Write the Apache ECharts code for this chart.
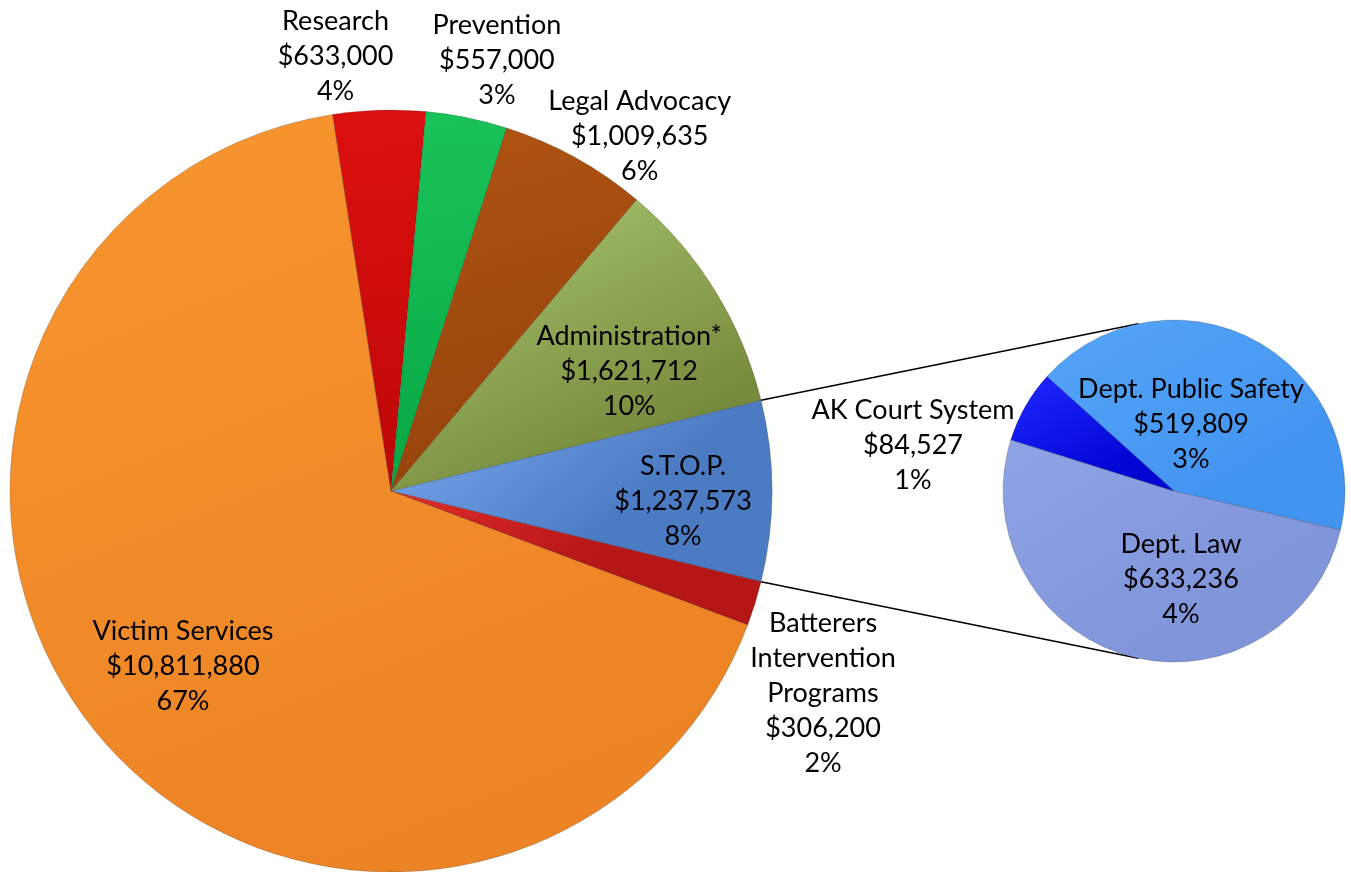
<!DOCTYPE html>
<html><head><meta charset="utf-8">
<script src="https://cdn.jsdelivr.net/npm/echarts@6/dist/echarts.min.js"></script>
<style>html,body{margin:0;padding:0;background:#fff}#c{width:1351px;height:872px}</style>
</head><body><div id="c"></div>
<script>
// ---- data ----
const mainCategories = ['S.T.O.P.', 'Batterers Intervention Programs', 'Victim Services', 'Research', 'Prevention', 'Legal Advocacy', 'Administration*'];
const mainLabelNames = ['S.T.O.P.', 'Batterers\nIntervention\nPrograms', 'Victim Services', 'Research', 'Prevention', 'Legal Advocacy', 'Administration*'];
const mainValues = [1237573, 306200, 10811880, 633000, 557000, 1009635, 1621712];
const subCategories = ['Dept. Public Safety', 'Dept. Law', 'AK Court System'];
const subValues = [519809, 633236, 84527];

// ---- style / layout ----
const MAIN = {cx: 391, cy: 491, r: 381};
const SUB = {cx: 1174, cy: 491, r: 171, start: 138};
const mainColors = [['#7AAAEE', '#4B7BC3'], ['#E22C2C', '#B51616'], ['#F9962F', '#EC8324'], ['#DC1010', '#BE0707'], ['#1AC45A', '#08A744'], ['#B05412', '#96430B'], ['#AECB72', '#778B3D']];
const subColors = [['#56A5FA', '#4194F0'], ['#8FA4E6', '#8095DA'], ['#2028FF', '#0006D4']];
// label placement: [radius ratio, angle shift from slice mid (deg)]
const mainLabelPos = [[0.767, -2], [1.252, -7.9], [0.714, 1.0], [1.151, 5.5], [1.163, -2.35], [1.138, -6.1], [0.70, -5.1]];
const subLabelPos = [[0.40, 13.2], [0.52, 19.8], [1.55, 19.7]];

const grandTotal = mainValues.reduce((a, b) => a + b, 0);
const mainStart = 360 * mainValues[0] / grandTotal / 2;
const subTotal = subValues.reduce((a, b) => a + b, 0);

function mids(values, total, start) {
  const out = []; let cum = 0;
  values.forEach(v => { out.push(start - (cum + v / 2) * 360 / total); cum += v; });
  return out;
}
const mainMids = mids(mainValues, grandTotal, mainStart);
const subMids = mids(subValues, subTotal, SUB.start);

const money = v => '$' + v.toLocaleString('en-US');
const pct = v => Math.round(v / grandTotal * 100) + '%';
const grad = c => new echarts.graphic.LinearGradient(0, 0, 0.4, 1, [{offset: 0, color: c[0]}, {offset: 1, color: c[1]}]);
const rad = d => d * Math.PI / 180;

const labelStyle = {show: true, position: 'inside', color: '#000', fontFamily: 'Lato, "Noto Sans", sans-serif', fontSize: 27, lineHeight: 35, align: 'center'};

function layoutFor(geo, midsArr, posArr) {
  return function (p) {
    const i = p.dataIndex; const a = rad(midsArr[i] + posArr[i][1]); const rr = geo.r * posArr[i][0];
    return {x: geo.cx + rr * Math.cos(a), y: geo.cy - rr * Math.sin(a), align: 'center', verticalAlign: 'middle'};
  };
}

const mainData = mainCategories.map((n, i) => ({
  name: n, value: mainValues[i],
  itemStyle: {color: grad(mainColors[i])},
  label: Object.assign({formatter: mainLabelNames[i] + '\n' + money(mainValues[i]) + '\n' + pct(mainValues[i])},
    n === 'Victim Services' ? {fontFamily: '"Liberation Sans Narrow", Lato, sans-serif', fontSize: 27} : {})
}));
const subData = subCategories.map((n, i) => ({
  name: n, value: subValues[i],
  itemStyle: {color: grad(subColors[i])},
  label: {formatter: n + '\n' + money(subValues[i]) + '\n' + pct(subValues[i])}
}));

// connector lines from S.T.O.P. slice edges to the secondary pie
const stopHalf = mainStart;
const conn = [1, -1].map(s => {
  const a1 = rad(s * stopHalf), a2 = rad(s * 102);
  return {
    type: 'line', z: 0,
    shape: {x1: MAIN.cx + MAIN.r * Math.cos(a1), y1: MAIN.cy - MAIN.r * Math.sin(a1),
            x2: SUB.cx + SUB.r * Math.cos(a2), y2: SUB.cy - SUB.r * Math.sin(a2)},
    style: {stroke: '#000', lineWidth: 1.5}
  };
});

const chart = echarts.init(document.getElementById('c'), null, {renderer: 'canvas'});
chart.setOption({
  animation: false,
  backgroundColor: '#fff',
  graphic: conn,
  series: [
    {
      type: 'pie', center: [MAIN.cx, MAIN.cy], radius: [0, MAIN.r], startAngle: mainStart, clockwise: true,
      avoidLabelOverlap: false, silent: true, z: 2,
      itemStyle: {borderColor: 'rgba(0,0,0,0.18)', borderWidth: 1},
      label: labelStyle, labelLine: {show: false},
      labelLayout: layoutFor(MAIN, mainMids, mainLabelPos),
      emphasis: {disabled: true},
      data: mainData
    },
    {
      type: 'pie', center: [SUB.cx, SUB.cy], radius: [0, SUB.r], startAngle: SUB.start, clockwise: true,
      avoidLabelOverlap: false, silent: true, z: 2,
      itemStyle: {borderColor: 'rgba(0,0,0,0.18)', borderWidth: 1},
      label: labelStyle, labelLine: {show: false},
      labelLayout: layoutFor(SUB, subMids, subLabelPos),
      emphasis: {disabled: true},
      data: subData
    }
  ]
});
</script></body></html>
